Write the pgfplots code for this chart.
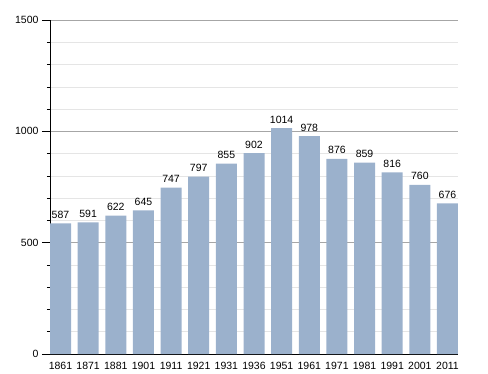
\documentclass[border=0pt]{standalone}
\usepackage{pgfplots}
\pgfplotsset{compat=1.18}
\usepackage{fontspec}
\setmainfont{Liberation Sans}
\definecolor{barc}{HTML}{9BB1CC}
\begin{document}
\begin{tikzpicture}
\begin{axis}[
  scale only axis, width=408pt, height=334pt,
  xmin=-0.38, xmax=14.38, ymin=0, ymax=1500,
  axis x line*=bottom, axis y line*=left,
  axis line style={black, line width=0.8pt, -},
  ytick={0,500,1000,1500}, minor ytick={100,200,300,400,600,700,800,900,1100,1200,1300,1400},
  ymajorgrids, yminorgrids,
  major grid style={color=black!35, line width=0.6pt},
  minor grid style={color=black!10, line width=0.6pt},
  xtick=data,
  xticklabels={1861,1871,1881,1901,1911,1921,1931,1936,1951,1961,1971,1981,1991,2001,2011},
  x tick style={draw=none},
  xticklabel style={yshift=3pt},
  y tick style={black, line width=0.6pt},
  tick align=outside, major tick length=8pt, minor tick length=3pt,
  tick label style={font=\fontsize{10.5}{12}\selectfont},
  /pgf/number format/assume math mode=true,
  /pgf/number format/set thousands separator={},
  ybar, bar width=21pt,
  nodes near coords,
  nodes near coords style={font=\fontsize{10.5}{12}\selectfont, yshift=1.5pt, /pgf/number format/set thousands separator={}, /pgf/number format/assume math mode=true},
]
\addplot[fill=barc, draw=none] coordinates {
(0,587) (1,591) (2,622) (3,645) (4,747) (5,797) (6,855) (7,902) (8,1014) (9,978) (10,876) (11,859) (12,816) (13,760) (14,676)};
\coordinate (O) at (rel axis cs:0,0);
\end{axis}
\pgfresetboundingbox
\path[use as bounding box] (O) ++(-50pt,-19pt) rectangle ++(488pt,373pt);
\end{tikzpicture}
\end{document}
